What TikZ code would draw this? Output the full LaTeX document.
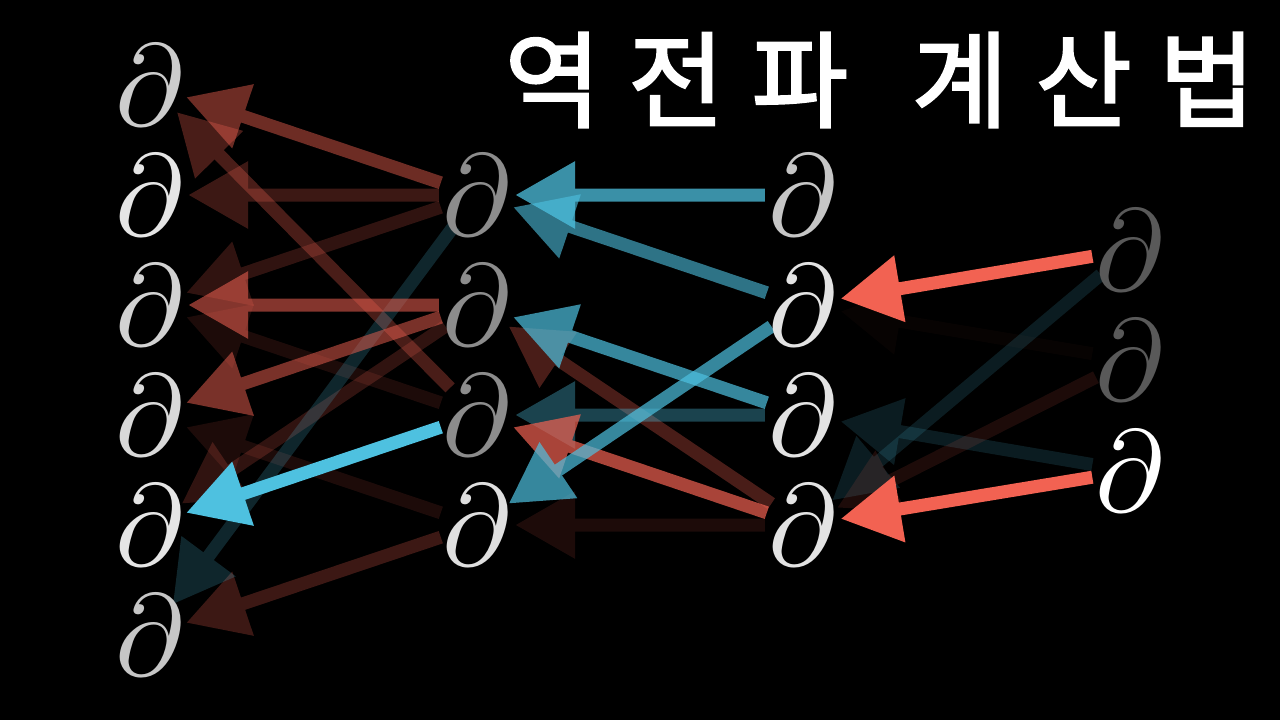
\documentclass[tikz,border=0pt]{standalone}
\usepackage{graphicx}
\usepackage{fontspec}
\newfontfamily\krfont{Noto Sans CJK KR}[AutoFakeBold=2]
\usetikzlibrary{arrows.meta}
\pgfdeclarelayer{bg}
\pgfsetlayers{bg,main}
\definecolor{cred}{HTML}{F26252}
\definecolor{cblue}{HTML}{4EC1E0}
\newcommand\bigpartial{\scalebox{11.6}{$\partial$}}
% #1 opacity, #2 style, #3 from, #4 to
\newcommand\grad[4]{\begin{scope}[transparency group,opacity=#1]\draw[#2] (#3) -- (#4);\end{scope}}
\begin{document}
\begin{tikzpicture}[x=1pt,y=-1pt,
  dn/.style={circle,minimum size=76pt,inner sep=0pt,
    label={[text=#1,inner sep=0pt]center:\bigpartial}},
  arr/.style={line width=13pt,-{Triangle[length=60pt,width=64pt]}},
  rd/.style={arr,draw=cred},
  bl/.style={arr,draw=cblue}]
\begin{pgfonlayer}{bg}
\fill[black] (0,0) rectangle (1280,720);
\end{pgfonlayer}
\useasboundingbox (0,0) rectangle (1280,720);

% column 1
\node[dn={gray!40!white}] (c11) at (150,85) {};
\node[dn={gray!20!white}] (c12) at (150,195) {};
\node[dn={gray!35!white}] (c13) at (150,305) {};
\node[dn={gray!30!white}] (c14) at (150,415) {};
\node[dn={gray!20!white}] (c15) at (150,525) {};
\node[dn={gray!45!white}] (c16) at (150,635) {};
% column 2
\node[dn={gray!90!white}] (c21) at (477,195) {};
\node[dn={gray!90!white}] (c22) at (477,305) {};
\node[dn={gray!90!white}] (c23) at (477,415) {};
\node[dn={gray!25!white}] (c24) at (477,525) {};
% column 3
\node[dn={gray!45!white}] (c31) at (803,195) {};
\node[dn={gray!22!white}] (c32) at (803,305) {};
\node[dn={gray!22!white}] (c33) at (803,415) {};
\node[dn={gray!22!white}] (c34) at (803,525) {};
% column 4
\node[dn={gray!70!black}] (c41) at (1130,250) {};
\node[dn={gray!70!black}] (c42) at (1130,360) {};
\node[dn={white}] (c43) at (1130,471) {};

% title
\node[text=white,font=\krfont\bfseries\fontsize{105}{105}\selectfont,inner sep=0pt] (title) at (880,80)
  {역\hspace{27pt}전\hspace{27pt}파\hspace{40pt} 계\hspace{27pt}산\hspace{27pt}법};

\begin{pgfonlayer}{bg}
% layer 4 -> 3
\grad{0.03}{rd}{c42}{c32}
\grad{0.15}{bl}{c43}{c33}
\grad{0.15}{bl}{c41}{c34}
\grad{0.12}{rd}{c42}{c34}
\grad{1}{rd}{c41}{c32}
\grad{1}{rd}{c43}{c34}
% layer 3 -> 2
\grad{0.12}{rd}{c34}{c24}
\grad{0.3}{rd}{c34}{c22}
\grad{0.35}{bl}{c33}{c23}
\grad{0.6}{bl}{c32}{c21}
\grad{0.75}{bl}{c31}{c21}
\grad{0.7}{bl}{c33}{c22}
\grad{0.7}{rd}{c34}{c23}
\grad{0.7}{bl}{c32}{c24}
% layer 2 -> 1
\grad{0.12}{rd}{c24}{c14}
\grad{0.12}{rd}{c23}{c13}
\grad{0.25}{rd}{c24}{c16}
\grad{0.2}{rd}{c22}{c15}
\grad{0.2}{rd}{c21}{c13}
\grad{0.25}{rd}{c21}{c12}
\grad{0.3}{rd}{c23}{c11}
\grad{0.2}{bl}{c21}{c16}
\grad{0.45}{rd}{c21}{c11}
\grad{0.5}{rd}{c22}{c14}
\grad{0.55}{rd}{c22}{c13}
\grad{1}{bl}{c23}{c15}
\end{pgfonlayer}
\end{tikzpicture}
\end{document}
